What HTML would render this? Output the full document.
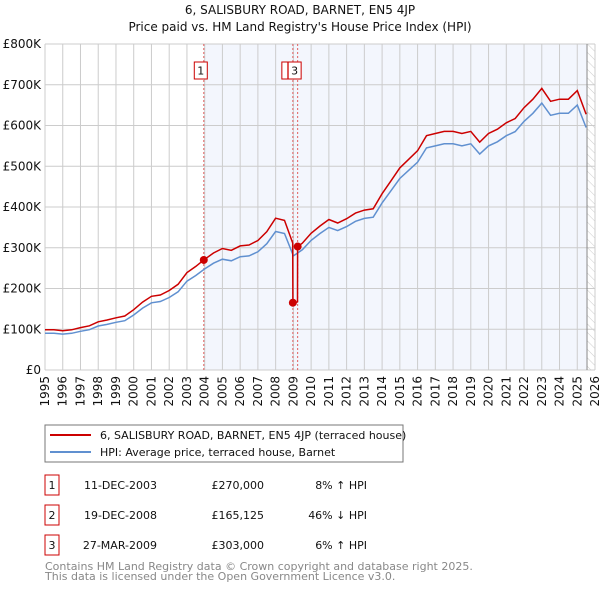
<!DOCTYPE html>
<html><head><meta charset="utf-8"><style>
body{margin:0;background:#fff;font-family:"DejaVu Sans","Liberation Sans",sans-serif;}
svg text{font-family:"DejaVu Sans","Liberation Sans",sans-serif;}
</style></head><body>
<svg id="chart" width="600" height="590" viewBox="0 0 600 590" xmlns="http://www.w3.org/2000/svg">
<defs><pattern id="hatch" width="6" height="6" patternUnits="userSpaceOnUse" patternTransform="rotate(-45)"><line x1="0" y1="0" x2="0" y2="6" stroke="#ccc" stroke-width="1"/></pattern></defs>
<text x="300" y="14" text-anchor="middle" font-size="12" fill="#111">6, SALISBURY ROAD, BARNET, EN5 4JP</text>
<text x="300" y="31" text-anchor="middle" font-size="12" fill="#111">Price paid vs. HM Land Registry's House Price Index (HPI)</text>
<g id="plot"></g>
<rect x="45" y="425" width="358" height="37" fill="#fff" stroke="#777"/>
<line x1="50" y1="435" x2="91" y2="435" stroke="#cc0000" stroke-width="2"/>
<text x="100" y="439" font-size="11" fill="#111">6, SALISBURY ROAD, BARNET, EN5 4JP (terraced house)</text>
<line x1="50" y1="452" x2="91" y2="452" stroke="#6090d0" stroke-width="2"/>
<text x="100" y="456" font-size="11" fill="#111">HPI: Average price, terraced house, Barnet</text>
<g id="table" font-size="11" fill="#111"></g>
<text x="45" y="570" font-size="11" fill="#888">Contains HM Land Registry data © Crown copyright and database right 2025.</text>
<text x="45" y="580" font-size="11" fill="#888">This data is licensed under the Open Government Licence v3.0.</text>
</svg>
<script>
const hpiYears=[1995,1995.5,1996,1996.5,1997,1997.5,1998,1998.5,1999,1999.5,2000,2000.5,2001,2001.5,2002,2002.5,2003,2003.5,2004,2004.5,2005,2005.5,2006,2006.5,2007,2007.5,2008,2008.5,2009,2009.5,2010,2010.5,2011,2011.5,2012,2012.5,2013,2013.5,2014,2014.5,2015,2015.5,2016,2016.5,2017,2017.5,2018,2018.5,2019,2019.5,2020,2020.5,2021,2021.5,2022,2022.5,2023,2023.5,2024,2024.5,2025,2025.5];
const hpiValues=[90,90,88,90,95,99,108,112,117,121,135,152,165,168,178,192,218,232,248,262,272,268,278,280,290,310,340,335,280,295,318,335,350,342,352,365,372,375,410,440,470,490,510,545,550,555,555,550,555,530,550,560,575,585,610,630,655,625,630,630,650,595];
const saleDates=[2003.95,2008.97,2009.24];
const salePrices=[270,165.125,303];
const saleLabels=["1","2","3"];
const saleDateText=["11-DEC-2003","19-DEC-2008","27-MAR-2009"];
const salePriceText=["£270,000","£165,125","£303,000"];
const saleHpiText=["8% ↑ HPI","46% ↓ HPI","6% ↑ HPI"];
const yTicks=[0,100,200,300,400,500,600,700,800];
const yTickLabels=["£0","£100K","£200K","£300K","£400K","£500K","£600K","£700K","£800K"];
const xYears=[1995,1996,1997,1998,1999,2000,2001,2002,2003,2004,2005,2006,2007,2008,2009,2010,2011,2012,2013,2014,2015,2016,2017,2018,2019,2020,2021,2022,2023,2024,2025,2026];

const X0=45,X1=595,Y0=370,Y1=44,dataEnd=2025.55;
const xs=t=>X0+(t-1995)/(2026-1995)*(X1-X0);
const ys=v=>Y0-v/800*(Y0-Y1);
const NS="http://www.w3.org/2000/svg";
const plot=document.getElementById('plot');
function mk(tag,attrs,parent){const e=document.createElementNS(NS,tag);for(const k in attrs)e.setAttribute(k,attrs[k]);(parent||plot).appendChild(e);return e;}
function hpiAt(t){for(let i=0;i<hpiYears.length-1;i++){if(t<=hpiYears[i+1]){const f=(t-hpiYears[i])/(hpiYears[i+1]-hpiYears[i]);return hpiValues[i]+f*(hpiValues[i+1]-hpiValues[i]);}}return hpiValues[hpiValues.length-1];}

let bg=mk('rect',{x:X0,y:Y1,width:X1-X0,height:Y0-Y1,fill:'#fff'});


let sh=mk('rect',{x:xs(saleDates[0]),y:Y1,width:xs(dataEnd)-xs(saleDates[0]),height:Y0-Y1,fill:'#eef2fc',opacity:0.7});


let ht=mk('rect',{x:xs(dataEnd),y:Y1,width:X1-xs(dataEnd),height:Y0-Y1,fill:'url(#hatch)'});


yTicks.forEach((v,i)=>{
  let g=mk('line',{x1:X0,x2:X1,y1:ys(v),y2:ys(v),stroke:'#ccc','stroke-width':1});
  
  
  let t=mk('text',{x:X0-4,y:ys(v)+4,'text-anchor':'end','font-size':12,fill:'#111'});
  t.textContent=yTickLabels[i];
  
  
});
xYears.forEach(y=>{
  let g=mk('line',{x1:xs(y),x2:xs(y),y1:Y1,y2:Y0,stroke:'#ccc','stroke-width':1});
  
  
  let t=mk('text',{x:0,y:0,'text-anchor':'end','font-size':12,fill:'#111',transform:`translate(${xs(y)+4},${Y0+6}) rotate(-90)`});
  t.textContent=y;
  
  
});
let el=mk('line',{x1:xs(dataEnd),x2:xs(dataEnd),y1:Y1,y2:Y0,stroke:'#888','stroke-width':1});


saleDates.forEach((d,i)=>{
  let l=mk('line',{x1:xs(d),x2:xs(d),y1:Y1,y2:Y0,stroke:'#e06060','stroke-width':1,'stroke-dasharray':'2,2'});
  
  
});
let hp=hpiYears.map((t,i)=>`${i?'L':'M'}${xs(t).toFixed(1)},${ys(hpiValues[i]).toFixed(1)}`).join('');
let hl=mk('path',{d:hp,fill:'none',stroke:'#6090d0','stroke-width':1.5});


function ratioAt(t){let k=0;for(let i=0;i<saleDates.length;i++)if(t>=saleDates[i])k=i;return salePrices[k]/hpiAt(saleDates[k]);}
let times=hpiYears.concat(saleDates).concat(saleDates.map(d=>d-0.01)).sort((a,b)=>a-b);
let rp=times.map((t,i)=>`${i?'L':'M'}${xs(t).toFixed(1)},${ys(hpiAt(t)*ratioAt(t)).toFixed(1)}`).join('');
let rl=mk('path',{d:rp,fill:'none',stroke:'#cc0000','stroke-width':1.5});


saleDates.forEach((d,i)=>{
  let c=mk('circle',{cx:xs(d),cy:ys(salePrices[i]),r:4,fill:'#cc0000'});
  
  
});
let b2=mk('rect',{x:xs(saleDates[1])-11,y:62,width:6,height:17,fill:'#fff',stroke:'#cc0000'});


[0,2].forEach(i=>{
  let x=xs(saleDates[i]);
  let b=mk('rect',{x:x-9.5,y:62,width:13,height:17,fill:'#fff',stroke:'#cc0000'});
  
  
  let t=mk('text',{x:x-3,y:74.5,'text-anchor':'middle','font-size':11,fill:'#111'});
  t.textContent=saleLabels[i];
  
  
});
const tbl=document.getElementById('table');
saleDates.forEach((d,i)=>{
  const y=475+i*30;
  let b=mk('rect',{x:45,y:y,width:14,height:20,fill:'#fff',stroke:'#cc0000'},tbl);
  
  
  let t=mk('text',{x:52,y:y+14,'text-anchor':'middle'},tbl);t.textContent=saleLabels[i];
  
  
  let a=mk('text',{x:157,y:y+14,'text-anchor':'end'},tbl);a.textContent=saleDateText[i];
  
  
  let p=mk('text',{x:264,y:y+14,'text-anchor':'end'},tbl);p.textContent=salePriceText[i];
  
  
  let h=mk('text',{x:367,y:y+14,'text-anchor':'end'},tbl);h.textContent=saleHpiText[i];
  
  
});
</script>
</body></html>
